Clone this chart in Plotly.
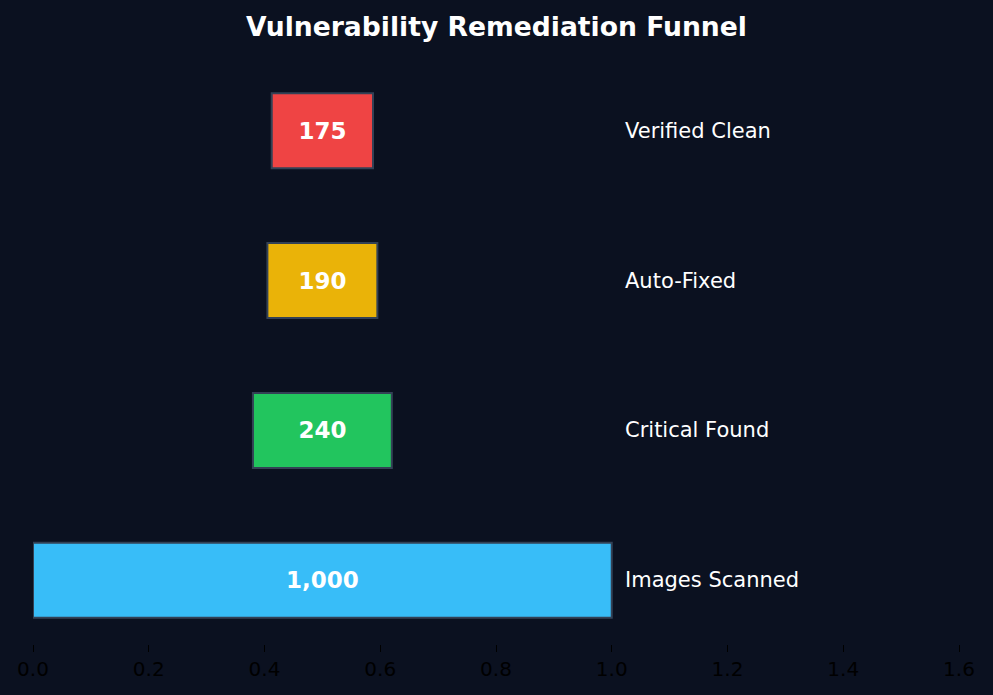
import plotly.graph_objects as go

stages = ["Images Scanned", "Critical Found", "Auto-Fixed", "Verified Clean"]
counts = [1000, 240, 190, 175]
colors = ["#38bdf8", "#22c55e", "#eab308", "#ef4444"]

bg = "#0b1120"
top = max(counts)
widths = [c / top for c in counts]
bases = [0.5 - w / 2 for w in widths]

fig = go.Figure()
fig.add_bar(
    y=stages, x=widths, base=bases, orientation="h",
    marker=dict(color=colors, line=dict(color="#334155", width=2)),
    text=[f"{c:,}" for c in counts],
    textposition="inside", insidetextanchor="middle",
    textfont=dict(family="DejaVu Sans", size=23, color="white", weight="bold"),
    hoverinfo="skip",
)

for s in stages:
    fig.add_annotation(x=1.02, y=s, text=s, showarrow=False, xanchor="left",
                       font=dict(family="DejaVu Sans", size=21, color="white"))

fig.update_layout(
    width=993, height=695,
    paper_bgcolor=bg, plot_bgcolor=bg,
    margin=dict(l=33, r=34, t=67, b=51),
    bargap=0.5, showlegend=False,
    title=dict(text="<b>Vulnerability Remediation Funnel</b>", x=0.5, xanchor="center",
               y=0.961, yanchor="middle",
               font=dict(family="DejaVu Sans", size=26.6, color="white")),
)
fig.update_xaxes(range=[0, 1.6], dtick=0.2, tickformat=".1f", showgrid=False, zeroline=False,
                 showline=False, ticks="outside", ticklen=7, tickcolor="black",
                 tickfont=dict(family="DejaVu Sans", size=20, color="black"))
fig.update_yaxes(range=[-0.425, 3.425], showticklabels=False, showgrid=False,
                 zeroline=False, showline=False)

fig.write_html("out.html", config={"displayModeBar": False},
               post_script="document.body.style.margin='0';document.body.style.background='%s';" % bg)
